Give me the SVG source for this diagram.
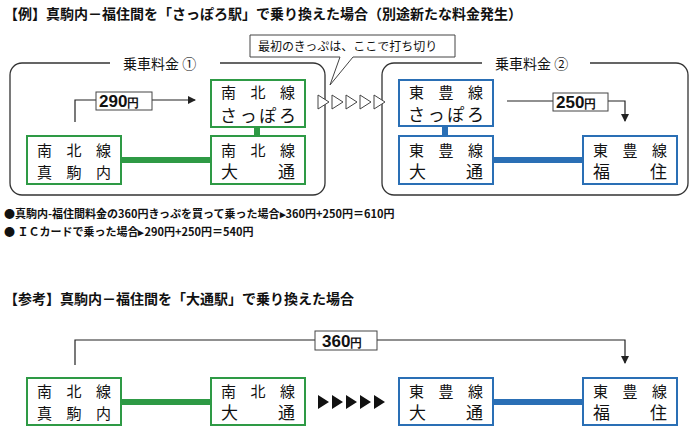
<svg xmlns="http://www.w3.org/2000/svg" width="700" height="436" viewBox="0 0 700 436">
<style>
text{font-family:"Noto Sans CJK JP","Liberation Sans",sans-serif;fill:#111}
.t{font-size:14px;font-weight:bold}
.n{font-size:15px}
.g{fill:#fff;stroke:#2e9a45;stroke-width:2}
.b{fill:#fff;stroke:#2a6fb5;stroke-width:2}
.fr{fill:none;stroke:#333;stroke-width:1.3}
.ln{fill:none;stroke:#222;stroke-width:1.2}
.lb{fill:#fff;stroke:#444;stroke-width:1}
.p{font-size:17px;font-weight:bold;font-family:"Liberation Sans",sans-serif}
.s{font-size:11px;font-weight:bold}
</style>
<defs><marker id="a" markerWidth="8" markerHeight="8" refX="7" refY="4" orient="auto" markerUnits="userSpaceOnUse"><path d="M0,0L8,4L0,8z" fill="#222"/></marker></defs>
<rect width="700" height="436" fill="#fff"/>
<text class="t" x="4" y="19">【例】真駒内－福住間を「さっぽろ駅」で乗り換えた場合（別途新たな料金発生）</text>
<g id="frames">
<path class="fr" d="M110,63H22a12,12 0 0 0-12,12V183a12,12 0 0 0 12,12H313a12,12 0 0 0 12-12V75a12,12 0 0 0-12-12H220"/>
<text x="123" y="69" font-size="14">乗車料金 ①</text>
<path class="fr" d="M482,63H394a12,12 0 0 0-12,12V183a12,12 0 0 0 12,12H676a12,12 0 0 0 12-12V75a12,12 0 0 0-12-12H590"/>
<text x="495" y="69" font-size="14">乗車料金 ②</text>
</g>
<g id="connectors">
<rect x="121" y="157" width="90" height="6" fill="#2e9a45"/>
<rect x="254" y="127" width="6" height="9" fill="#2e9a45"/>
<rect x="493" y="157" width="90" height="6" fill="#2a6fb5"/>
<rect x="442" y="126" width="6" height="10" fill="#2a6fb5"/>
<path class="ln" d="M75,122V100H195" marker-end="url(#a)"/>
<path class="ln" d="M507,101H625V121" marker-end="url(#a)"/>
<rect x="121" y="399" width="90" height="6" fill="#2e9a45"/>
<rect x="493" y="399" width="90" height="6" fill="#2a6fb5"/>
<path class="ln" d="M75,365V340H625V363" marker-end="url(#a)"/>
<g fill="#fff" stroke="#444" stroke-width="1">
<path d="M318,95l11,7l-11,7z M332,95l11,7l-11,7z M346,95l11,7l-11,7z M360,95l11,7l-11,7z M374,95l11,7l-11,7z"/>
</g>
<g fill="#111">
<path d="M318,395l11,7l-11,7z M332,395l11,7l-11,7z M346,395l11,7l-11,7z M360,395l11,7l-11,7z M374,395l11,7l-11,7z"/>
</g>
</g>
<g id="labels">
<rect class="lb" x="96" y="92" width="56" height="18"/><text class="p" x="99" y="107">290<tspan font-size="12">円</tspan></text>
<rect class="lb" x="553" y="93" width="55" height="18"/><text class="p" x="556" y="108">250<tspan font-size="12">円</tspan></text>
<rect class="lb" x="315" y="331" width="62" height="19"/><text class="p" x="322" y="347">360<tspan font-size="12">円</tspan></text>
</g>
<g id="callout">
<path d="M250,35H455V57H353L330,85L340,57H250Z" fill="#fff" stroke="#444" stroke-width="1"/>
<text x="258" y="51" font-size="12">最初のきっぷは、ここで打ち切り</text>
</g>
<g id="n1"><rect class="g" x="27" y="136" width="94" height="48"/><text class="n" x="37" y="156" textLength="74">南北線</text><text class="n" x="37" y="178" font-size="17" textLength="74">真駒内</text></g>
<g id="n2"><rect class="g" x="211" y="136" width="94" height="48"/><text class="n" x="221" y="156" textLength="74">南北線</text><text x="221" y="178" font-size="17">大</text><text x="278" y="178" font-size="17">通</text></g>
<g id="n3"><rect class="g" x="211" y="80" width="94" height="47"/><text class="n" x="221" y="98" textLength="74">南北線</text><text x="220" y="122" font-size="17" textLength="76">さっぽろ</text></g>
<g id="n4"><rect class="b" x="399" y="80" width="94" height="46"/><text class="n" x="409" y="98" textLength="74">東豊線</text><text x="408" y="121" font-size="17" textLength="76">さっぽろ</text></g>
<g id="n5"><rect class="b" x="399" y="136" width="94" height="48"/><text class="n" x="409" y="156" textLength="74">東豊線</text><text x="409" y="178" font-size="17">大</text><text x="466" y="178" font-size="17">通</text></g>
<g id="n6"><rect class="b" x="583" y="136" width="94" height="48"/><text class="n" x="593" y="156" textLength="74">東豊線</text><text x="593" y="178" font-size="17">福</text><text x="650" y="178" font-size="17">住</text></g>
<text class="s" x="4" y="218">●真駒内-福住間料金の360円きっぷを買って乗った場合▸360円+250円＝610円</text>
<text class="s" x="4" y="236">●  ＩＣカードで乗った場合▸290円+250円＝540円</text>
<text class="t" x="4" y="304">【参考】真駒内－福住間を「大通駅」で乗り換えた場合</text>
<g id="m1"><rect class="g" x="27" y="378" width="94" height="47"/><text class="n" x="37" y="397" textLength="74">南北線</text><text class="n" x="37" y="419" font-size="17" textLength="74">真駒内</text></g>
<g id="m2"><rect class="g" x="211" y="378" width="94" height="47"/><text class="n" x="221" y="397" textLength="74">南北線</text><text x="221" y="419" font-size="17">大</text><text x="278" y="419" font-size="17">通</text></g>
<g id="m3"><rect class="b" x="399" y="378" width="94" height="47"/><text class="n" x="409" y="397" textLength="74">東豊線</text><text x="409" y="419" font-size="17">大</text><text x="466" y="419" font-size="17">通</text></g>
<g id="m4"><rect class="b" x="583" y="378" width="94" height="47"/><text class="n" x="593" y="397" textLength="74">東豊線</text><text x="593" y="419" font-size="17">福</text><text x="650" y="419" font-size="17">住</text></g>
</svg>
